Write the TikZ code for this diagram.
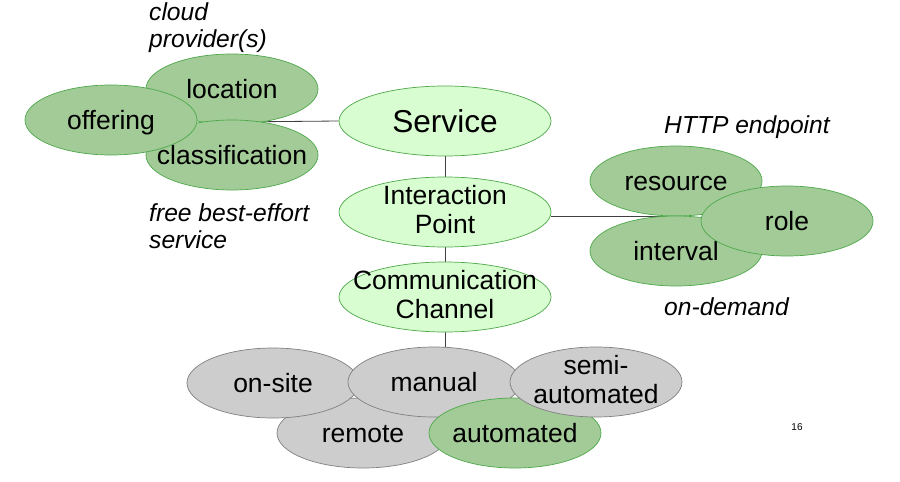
\documentclass[tikz,border=0pt]{standalone}
\usepackage{fontspec}
\setmainfont{Liberation Sans}
\usetikzlibrary{shapes.geometric,backgrounds}
\definecolor{palegreen}{HTML}{D7FDD0}
\definecolor{leafgreen}{HTML}{A2CB98}
\definecolor{rimgreen}{HTML}{4EA84A}
\definecolor{stonegray}{HTML}{CDCDCD}
\definecolor{rimgray}{HTML}{808080}
\newcommand\linestrut{\rule[-0.17\baselineskip]{0pt}{\baselineskip}}

\begin{document}
\begin{tikzpicture}[x=0.03cm, y=-0.03cm,
    concept/.style = {ellipse, minimum width=6.36cm, minimum height=2.1cm, inner xsep=-3cm, inner ysep=-1cm, align=center, draw=rimgreen, line width=0.6pt, fill=palegreen, font=\fontsize{22.6}{25.5}\selectfont, execute at begin node=\linestrut, execute at end node=\linestrut},
    facet/.style = {ellipse, minimum width=5.16cm, minimum height=2.1cm, inner xsep=-3cm, inner ysep=-1cm, align=center, draw=rimgreen, line width=0.6pt, fill=leafgreen, font=\fontsize{22.6}{25.5}\selectfont, execute at begin node=\linestrut, execute at end node=\linestrut},
    option/.style = {facet, draw=rimgray, fill=stonegray},
    remark/.style = {anchor=west, align=left, inner sep=0pt, font=\itshape\fontsize{21}{23}\selectfont},
    link/.style = {draw=black!75, line width=0.7pt}
]
\useasboundingbox (0,0) rectangle (900,482);

% Nodes
\node (service) [concept, font=\fontsize{27}{30}\selectfont] at (445,121) {Service};
\node (interaction) [concept] at (445,212) {Interaction\\Point};
\node (channel) [concept] at (445,297) {Communication\\Channel};

\node (location) [facet] at (232,89) {location};
\node (classification) [facet] at (232,155) {classification};
\node (offering) [facet] at (111,120) {offering};

\node (resource) [facet] at (676,181) {resource};
\node (interval) [facet] at (676,251) {interval};
\node (role) [facet] at (787,221) {role};

\node (remote) [option] at (363,433) {remote};
\node (onsite) [option] at (273,383) {on-site};
\node (manual) [option] at (434,382) {manual};
\node (automated) [facet] at (515,433) {automated};
\node (semi) [option] at (596,382) {semi-\\automated};

\node (provider) [remark] at (149,28) {cloud\\provider(s)};
\node (besteffort) [remark] at (149,226) {free best-effort\\service};
\node (endpoint) [remark] at (664,127) {HTTP endpoint};
\node (ondemand) [remark] at (664,307) {on-demand};
\node (page) [inner sep=0pt, font=\fontsize{8.5}{10}\selectfont] at (797,427) {16};

\coordinate (leftjoin) at (232,122);
\coordinate (rightjoin) at (676,216);

% Edges
\begin{scope}[on background layer]
\draw [link] (service) -- (interaction);
\draw [link] (interaction) -- (channel);
\draw [link] (channel.south) -- (channel.south |- manual.center);
\draw [link] (service.west) -- (leftjoin);
\draw [link] (interaction.east |- rightjoin) -- (rightjoin);
\end{scope}

\end{tikzpicture}
\end{document}
